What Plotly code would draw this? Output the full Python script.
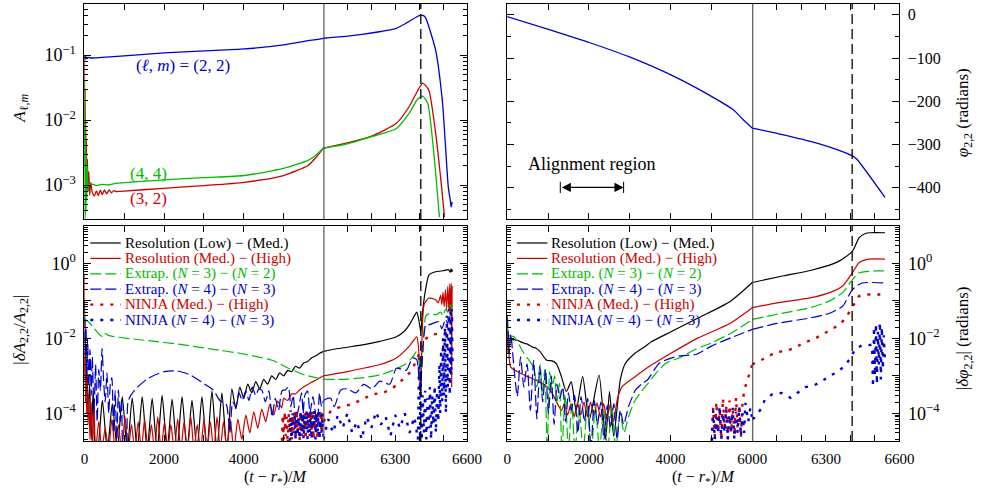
import numpy as np
import plotly.graph_objects as go

FONT = "Liberation Serif"
W, H = 990, 491
BLACK, RED, GREEN, BLUE = "#000000", "#cc0000", "#00bb00", "#0000cc"
T_BREAK = 6000      # axis scale changes here
T_END = 6600
T_MERGE = 6407      # dashed line (peak of amplitude)

# ------------------------------------------------------------------ data
# (t - r*)/M , value   -- top left : amplitudes A_{l,m}
amp22 = [(0, 0.1), (15, 0.085), (30, 0.095), (60, 0.088), (100, 0.092), (150, 0.09), (443, 0.092),
         (1000, 0.097), (1994, 0.108), (3000, 0.116), (4012, 0.124), (4997, 0.143), (5612, 0.166),
         (5800, 0.172), (6000, 0.181), (6100, 0.195), (6169, 0.209), (6240, 0.23), (6305, 0.258),
         (6340, 0.30), (6373, 0.355), (6395, 0.395), (6407, 0.412), (6420, 0.40), (6428, 0.37),
         (6445, 0.243), (6469, 0.119), (6497, 0.020), (6522, 9.3e-4), (6530, 6e-4), (6534, 4.6e-4),
         (6538, 5.5e-4)]
amp32 = [(0, 0.09), (8, 2e-3), (16, 0.03), (24, 1.2e-3), (32, 0.01), (40, 1.5e-3), (50, 5e-3),
         (60, 1e-3), (75, 2.5e-3), (90, 8e-4), (110, 1.6e-3), (130, 7e-4), (160, 1.1e-3), (200, 7.6e-4),
         (250, 6.8e-4), (300, 8.1e-4), (350, 6.9e-4), (400, 8.3e-4), (450, 7.1e-4), (500, 8.4e-4),
         (560, 7.3e-4), (620, 8.4e-4), (680, 7.6e-4), (740, 8.2e-4), (800, 7.9e-4), (900, 8.0e-4),
         (1994, 8.9e-4), (3000, 9.8e-4), (4012, 1.1e-3), (4997, 1.4e-3), (5612, 2.0e-3), (5800, 2.6e-3),
         (6000, 3.7e-3), (6095, 4.4e-3), (6198, 5.6e-3), (6305, 8.9e-3), (6358, 0.016), (6391, 0.027),
         (6415, 0.037), (6440, 0.029), (6469, 6.3e-3), (6494, 9.3e-4), (6506, 3.2e-4)]
amp44 = [(0, 0.041), (5, 5e-4), (10, 0.02), (15, 3e-4), (20, 0.01), (25, 3.5e-4), (30, 5e-3),
         (40, 4e-4), (50, 3e-3), (60, 6e-4), (70, 2e-3), (85, 8e-4), (100, 1.05e-3), (150, 0.97e-3),
         (200, 1.03e-3), (300, 0.98e-3), (443, 1.02e-3), (600, 1.0e-3), (800, 1.06e-3), (1994, 1.2e-3),
         (3000, 1.3e-3), (4012, 1.4e-3), (4997, 1.8e-3), (5612, 2.4e-3), (5800, 2.85e-3), (6000, 3.7e-3),
         (6100, 4.3e-3), (6198, 5.5e-3), (6305, 7.4e-3), (6358, 0.0126), (6391, 0.0203), (6415, 0.0233),
         (6436, 0.018), (6460, 3.5e-3), (6485, 3.2e-4)]

# top right : phase phi_{2,2} (radians)
phase22 = [(0, -4), (1049, -35), (2008, -64), (3008, -98), (4008, -139), (5008, -189), (5528, -219),
           (5770, -242), (6000, -262), (6108, -275), (6241, -293), (6348, -312), (6411, -327),
           (6428, -335), (6541, -422)]
align_region = (1300, 2850)

# bottom left : |dA/A|
dA_res_lm = [(0, 3e-3), (30, 3e-4), (60, 1.5e-3), (90, 1e-4), (130, 6e-4), (170, 2e-5), (220, 4e-4),
             (280, 1e-5), (325, 1e-5), (450, 2.2e-4), (575, 1e-5), (700, 1.8e-4), (825, 1e-5),
             (950, 2.8e-4), (1075, 1e-5), (1200, 2.6e-4), (1325, 1e-5), (1450, 2.8e-4), (1575, 1e-5),
             (1700, 2.5e-4), (1825, 1e-5), (1950, 3e-4), (2075, 1e-5), (2200, 2.4e-4), (2325, 1e-5),
             (2450, 2.8e-4), (2575, 1e-5), (2700, 2.2e-4), (2825, 1e-5), (2950, 2.8e-4), (3075, 1e-5),
             (3200, 4e-4), (3325, 1e-5), (3450, 3.5e-4), (3575, 1e-5), (3700, 4.5e-4), (3800, 1.3e-4),
             (3900, 5e-4), (4000, 2.5e-4), (4100, 6e-4), (4200, 3.5e-4), (4300, 7e-4), (4400, 4.5e-4),
             (4500, 8e-4), (4600, 6e-4), (4700, 1e-3), (4800, 8e-4), (4900, 1.2e-3), (5000, 1e-3),
             (5100, 1.4e-3), (5200, 1.3e-3), (5300, 1.8e-3), (5400, 1.6e-3), (5500, 2.2e-3),
             (5600, 2.4e-3), (5700, 3e-3), (5800, 3.4e-3), (5900, 4e-3), (6000, 4.5e-3), (6050, 5.2e-3),
             (6100, 5.8e-3), (6170, 6.8e-3), (6236, 8.3e-3), (6305, 0.011), (6340, 0.016), (6359, 0.023),
             (6380, 0.04), (6390, 0.05), (6400, 0.028), (6407, 0.015), (6414, 0.05), (6428, 0.22),
             (6441, 0.49), (6469, 0.6), (6500, 0.64), (6523, 0.68), (6530, 0.58), (6534, 0.72),
             (6537, 0.6), (6540, 0.68)]
dA_res_mh = [(0, 0.5), (10, 1e-3), (20, 0.03), (30, 2e-4), (40, 5e-3), (50, 1e-4), (70, 1e-3), (90, 5e-5),
             (110, 3e-4), (140, 2e-5), (170, 2e-4), (200, 1e-5), (240, 1.5e-4), (280, 1e-5),
             (360, 6e-5), (440, 1e-5), (520, 4e-5), (605, 1e-5), (690, 7e-5), (770, 1e-5), (850, 5e-5),
             (935, 1e-5), (1020, 8e-5), (1100, 1e-5), (1180, 5e-5), (1265, 1e-5), (1350, 6e-5),
             (1430, 1e-5), (1510, 7e-5), (1595, 1e-5), (1680, 5e-5), (1760, 1e-5), (1840, 8e-5),
             (1925, 1e-5), (2010, 6e-5), (2090, 1e-5), (2170, 5e-5), (2255, 1e-5), (2340, 7e-5),
             (2420, 1e-5), (2500, 6e-5), (2585, 1e-5), (2670, 8e-5), (2750, 1e-5), (2830, 5e-5),
             (2915, 1e-5), (3000, 7e-5), (3080, 1e-5), (3160, 6e-5), (3245, 1e-5), (3330, 8e-5),
             (3410, 1e-5), (3490, 6e-5), (3575, 1e-5), (3660, 7e-5), (3750, 1e-5), (3850, 7e-5),
             (3950, 2e-5), (4050, 9e-5), (4150, 3e-5), (4250, 1.1e-4), (4350, 4e-5), (4450, 1.3e-4),
             (4550, 6e-5), (4650, 1.7e-4), (4750, 9e-5), (4850, 2.1e-4), (4950, 1.4e-4), (5000, 2.5e-4),
             (5100, 2.2e-4), (5200, 3.3e-4), (5300, 3.3e-4), (5400, 4.2e-4), (5500, 5e-4), (5600, 5.8e-4),
             (5700, 6.7e-4), (5800, 7.6e-4), (5900, 8.7e-4), (6000, 1e-3), (6100, 1.3e-3), (6236, 2e-3),
             (6305, 3e-3), (6359, 6.2e-3), (6390, 0.011), (6400, 3.2e-3), (6407, 3e-4), (6412, 0.01),
             (6421, 0.08), (6441, 0.12), (6469, 0.107), (6480, 0.09), (6490, 0.14), (6495, 0.08),
             (6500, 0.17), (6505, 0.07), (6510, 0.2), (6515, 0.06), (6520, 0.25), (6525, 0.05),
             (6528, 0.28), (6531, 0.04), (6534, 0.3), (6536, 5e-4), (6538, 0.25)]
dA_ext_32 = [(0, 0.035), (50, 0.03), (115, 0.027), (250, 0.018), (400, 0.012), (485, 0.011), (525, 0.0135),
             (600, 0.012), (770, 0.011), (1592, 8.7e-3), (2412, 6.9e-3), (3232, 5.1e-3), (3890, 4e-3),
             (4710, 2.6e-3), (5120, 1.6e-3), (5530, 1.05e-3), (5800, 9e-4), (6000, 8.1e-4), (6031, 8e-4),
             (6100, 8.2e-4), (6168, 9e-4), (6236, 1.05e-3), (6290, 1.4e-3), (6340, 2e-3), (6370, 3e-3),
             (6390, 4.5e-3), (6400, 2.5e-3), (6407, 1e-3), (6415, 4e-3), (6428, 0.04), (6441, 0.045),
             (6470, 0.043), (6490, 0.05), (6500, 0.04), (6510, 0.06), (6520, 0.05), (6530, 0.08),
             (6536, 0.06), (6540, 0.09)]
dA_ext_43 = [(0, 0.1), (20, 3e-3), (40, 0.02), (60, 1e-3), (80, 0.01), (110, 5e-4), (140, 5e-3), (170, 3e-4),
             (197, 3.2e-3), (240, 1e-4), (280, 2e-3), (320, 6e-5), (360, 1.5e-3), (400, 4e-4),
             (443, 5.4e-3), (480, 8e-4), (520, 2e-4), (566, 1.2e-3), (610, 1e-4), (650, 6e-4),
             (689, 9e-4), (730, 3e-5), (770, 4e-4), (810, 2e-5), (853, 4.2e-4), (900, 6e-5), (935, 2.5e-4),
             (980, 1e-5), (1040, 1e-5), (1100, 2.2e-4), (1263, 4.2e-4), (1592, 8.5e-4), (2002, 1.3e-3),
             (2330, 1.35e-3), (2658, 1.05e-3), (2986, 6.3e-4), (3232, 4.2e-4), (3397, 2.2e-4),
             (3561, 1.7e-4), (3650, 3e-5), (3720, 2e-4), (3800, 1.5e-4), (3880, 3.5e-4), (3960, 2.2e-4),
             (4050, 4e-4), (4130, 2.2e-4), (4210, 5e-4), (4300, 3e-4), (4380, 4.5e-4), (4460, 4e-4),
             (4540, 2e-4), (4630, 4e-4), (4710, 8e-5), (4790, 2.5e-4), (4870, 1.2e-4), (4960, 4e-4),
             (5040, 4.2e-4), (5120, 5e-4), (5180, 1.5e-4), (5240, 3e-4), (5300, 6e-5), (5365, 1.2e-4),
             (5450, 3.5e-4), (5490, 1e-4), (5530, 3e-4), (5600, 4e-4), (5660, 1e-4), (5735, 2.8e-4),
             (5800, 1e-4), (5850, 6e-5), (5900, 3.5e-4), (5950, 1.5e-4), (6000, 2.2e-4), (6017, 2.5e-4),
             (6031, 2.5e-4), (6045, 1.5e-4), (6072, 4.2e-4), (6100, 4.5e-4), (6135, 3.5e-4),
             (6168, 5.9e-4), (6202, 4.5e-4), (6236, 7.2e-4), (6277, 6e-4), (6305, 1.6e-3), (6346, 1.4e-3),
             (6373, 3e-3), (6390, 2.7e-3), (6403, 4e-4), (6407, 5.9e-4), (6428, 0.023), (6441, 0.023),
             (6482, 0.028), (6495, 0.018), (6510, 0.032), (6520, 0.025), (6530, 0.05), (6537, 0.04)]
dA_ninja_res = [(4950, 1e-5), (4975, 9e-5), (5000, 2e-5), (5025, 1.1e-4), (5050, 2.5e-5), (5075, 8e-5),
                (5100, 1.5e-5), (5125, 1e-4), (5150, 3e-5), (5175, 1.2e-4), (5200, 2e-5), (5225, 9e-5),
                (5250, 3.5e-5), (5275, 1.1e-4), (5300, 2e-5), (5325, 1.2e-4), (5350, 3e-5), (5375, 8e-5),
                (5400, 1.8e-5), (5425, 1.1e-4), (5450, 2.5e-5), (5475, 1e-4), (5500, 3e-5), (5525, 1.2e-4),
                (5550, 2e-5), (5575, 1e-4), (5600, 4e-5), (5625, 1.2e-4), (5650, 2.5e-5), (5675, 1.1e-4),
                (5700, 3e-5), (5725, 1.2e-4), (5750, 2e-5), (5775, 9e-5), (5800, 3.5e-5), (5825, 1.15e-4),
                (5850, 2e-5), (5875, 1e-4), (5900, 4e-5), (5925, 1.2e-4), (5950, 3e-5), (5975, 1.1e-4),
                (6000, 6e-5), (6031, 1.15e-4), (6072, 1.5e-4), (6113, 1.7e-4), (6161, 2.3e-4),
                (6202, 3.2e-4), (6250, 3.5e-4), (6291, 4.8e-4), (6332, 8e-4), (6366, 1.3e-3),
                (6394, 3e-3), (6421, 9.3e-3), (6455, 0.0126), (6496, 0.0138), (6530, 0.0138)]
dA_ninja_ext = [(5150, 1e-5), (5175, 8e-5), (5200, 1.5e-5), (5225, 1e-4), (5250, 3e-5), (5275, 9e-5),
                (5300, 2e-5), (5325, 1.1e-4), (5350, 2.5e-5), (5375, 8e-5), (5400, 1.5e-5), (5425, 1.2e-4),
                (5450, 3e-5), (5475, 1e-4), (5500, 2e-5), (5525, 9e-5), (5550, 3.5e-5), (5575, 1.2e-4),
                (5600, 2e-5), (5625, 1e-4), (5650, 3e-5), (5675, 1.1e-4), (5700, 2e-5), (5725, 9e-5),
                (5750, 4e-5), (5775, 1.2e-4), (5800, 2e-5), (5825, 1e-4), (5850, 3e-5), (5875, 1.1e-4),
                (5900, 2e-5), (5925, 9e-5), (5950, 3e-5), (5975, 1e-4), (6000, 2e-5), (6020, 7e-5),
                (6040, 3e-5), (6060, 9e-5), (6080, 4e-5), (6100, 1e-4), (6120, 3e-5), (6140, 6e-5),
                (6160, 2e-5), (6180, 8e-5), (6200, 4e-5), (6220, 1.1e-4), (6240, 5e-5), (6260, 8e-5),
                (6280, 2.5e-5), (6300, 9e-5), (6320, 4e-5), (6340, 1e-4), (6360, 3e-5), (6380, 8e-5),
                (6395, 2e-5), (6400, 3e-3), (6403, 1e-5), (6406, 2e-3), (6410, 1e-5), (6415, 3e-4),
                (6420, 3e-5), (6425, 4e-4), (6430, 2e-5), (6435, 2.5e-4), (6440, 4e-5), (6445, 5e-4),
                (6450, 2e-5), (6455, 3e-4), (6460, 5e-5), (6465, 5.5e-4), (6470, 3e-5), (6475, 4e-4),
                (6480, 6e-5), (6485, 2e-3), (6488, 1e-4), (6492, 5e-3), (6496, 2e-4), (6500, 0.01),
                (6504, 3e-4), (6508, 0.02), (6512, 1e-4), (6516, 0.04), (6520, 5e-4), (6524, 0.06),
                (6528, 3e-4), (6531, 0.05), (6534, 1e-3), (6537, 0.06), (6540, 2e-3)]

# bottom right : |d phi| (radians)
dphi_res_lm = [(0, 0.035), (20, 0.012), (40, 0.01), (100, 0.0095), (248, 8.9e-3), (400, 7.5e-3),
               (500, 7e-3), (600, 6e-3), (700, 5.5e-3), (800, 4.5e-3), (968, 2.6e-3), (1100, 2.5e-3),
               (1208, 2.1e-3), (1328, 9.5e-4), (1448, 3.8e-4), (1568, 6.9e-4), (1688, 1.2e-4),
               (1848, 9.5e-4), (2008, 6.6e-5), (2248, 1.05e-3), (2408, 2e-5), (2504, 3.8e-4),
               (2608, 2.4e-5), (2768, 7.8e-4), (2888, 2.1e-3), (3128, 4e-3), (3368, 6e-3), (3528, 8.1e-3),
               (4008, 0.015), (4648, 0.034), (5448, 0.095), (6000, 0.31), (6128, 0.47), (6241, 0.66),
               (6348, 1.1), (6408, 2.1), (6435, 4.8), (6461, 6.3), (6480, 6.6), (6541, 6.6)]
dphi_res_mh = [(0, 0.028), (15, 4e-3), (30, 8e-3), (50, 3e-3), (88, 1.7e-3), (248, 1.3e-3), (500, 9.5e-4),
               (700, 7.8e-4), (968, 5.1e-4), (1100, 3.5e-4), (1208, 2e-4), (1330, 1.2e-4), (1400, 1.8e-4),
               (1480, 9e-5), (1560, 1.8e-4), (1640, 8e-5), (1720, 1.9e-4), (1800, 9e-5), (1880, 2e-4),
               (1960, 8e-5), (2040, 2e-4), (2120, 9e-5), (2200, 1.9e-4), (2280, 8e-5), (2360, 1.8e-4),
               (2440, 7e-5), (2520, 1.7e-4), (2600, 6e-5), (2700, 2.5e-4), (2808, 5.1e-4), (3128, 9.5e-4),
               (3448, 1.7e-3), (4008, 4e-3), (4648, 0.01), (5448, 0.025), (6000, 0.066), (6101, 0.089),
               (6235, 0.12), (6315, 0.166), (6368, 0.25), (6408, 0.56), (6435, 1.05), (6475, 1.3),
               (6541, 1.3)]
dphi_ext_32 = [(0, 0.03), (30, 0.012), (168, 0.011), (408, 4e-3), (648, 1.7e-3), (728, 5e-4), (808, 2e-3),
               (860, 3e-4), (920, 1.5e-3), (980, 1e-5), (1040, 1.3e-3), (1100, 4e-4), (1160, 1e-3),
               (1220, 2e-4), (1280, 6.3e-4), (1340, 1e-5), (1420, 3.2e-4), (1500, 1e-5), (1580, 1.8e-4),
               (1660, 1e-5), (1760, 1.4e-4), (1860, 1e-5), (1960, 1.3e-4), (2060, 1e-5), (2160, 1.6e-4),
               (2260, 1e-5), (2360, 1.3e-4), (2460, 1e-5), (2560, 1.6e-4), (2660, 1e-5), (2760, 1.1e-4),
               (2860, 3e-5), (2968, 8e-5), (3128, 2.2e-4), (3300, 4e-4), (3448, 6.3e-4), (3648, 1.2e-3),
               (3888, 2.2e-3), (4208, 3e-3), (4608, 5.1e-3), (5008, 7.6e-3), (5488, 0.014), (6000, 0.032),
               (6101, 0.044), (6235, 0.066), (6315, 0.1), (6368, 0.166), (6408, 0.37), (6435, 0.56),
               (6501, 0.63), (6541, 0.63)]
dphi_ext_43 = [(0, 0.04), (20, 0.02), (50, 4e-3), (88, 0.013), (170, 1.5e-3), (248, 2.8e-4), (328, 3.2e-3),
               (408, 5e-4), (488, 2.1e-3), (568, 1.2e-4), (648, 2.6e-3), (728, 7e-5), (800, 1.8e-3),
               (870, 2e-4), (940, 1.5e-3), (1010, 1e-4), (1080, 1e-3), (1150, 5e-5), (1220, 6e-4),
               (1290, 2.5e-4), (1360, 5e-4), (1430, 6e-5), (1500, 3.5e-4), (1570, 1.2e-4), (1650, 3e-4),
               (1730, 3e-5), (1810, 2.8e-4), (1890, 6e-5), (1970, 2.5e-4), (2050, 1e-5), (2130, 2.2e-4),
               (2210, 5e-5), (2290, 2e-4), (2370, 2e-5), (2450, 1.6e-4), (2530, 4e-5), (2610, 1.8e-4),
               (2690, 2e-5), (2770, 1.2e-4), (2850, 5e-5), (2968, 1.5e-4), (3048, 2.5e-4), (3128, 4e-4),
               (3288, 6e-4), (3448, 8.1e-4), (3728, 2.2e-3), (4208, 3.4e-3), (4608, 3.7e-3), (5008, 6.3e-3),
               (5488, 0.0105), (6000, 0.0174), (6101, 0.025), (6235, 0.035), (6315, 0.047), (6368, 0.072),
               (6408, 0.2), (6448, 0.3), (6541, 0.3)]
dphi_ninja_res = [(5000, 1e-5), (5040, 1.4e-4), (5080, 2.5e-5), (5120, 2e-4), (5160, 3e-5), (5200, 1.2e-4),
                  (5240, 2e-5), (5280, 2.5e-4), (5320, 4e-5), (5360, 1.5e-4), (5400, 2e-5), (5440, 2.2e-4),
                  (5480, 3e-5), (5520, 1.3e-4), (5560, 2.5e-5), (5600, 2.6e-4), (5640, 4e-5), (5680, 1.6e-4),
                  (5720, 2.2e-5), (5760, 2e-4), (5808, 4.4e-4), (5952, 1.5e-3), (6000, 2e-3), (6015, 2.3e-3),
                  (6055, 3e-3), (6095, 4.3e-3), (6135, 4.6e-3), (6175, 5.6e-3), (6208, 7.6e-3),
                  (6248, 9.3e-3), (6288, 0.013), (6321, 0.017), (6355, 0.023), (6381, 0.035), (6408, 0.066),
                  (6435, 0.135), (6468, 0.148), (6508, 0.148), (6530, 0.148)]
dphi_ninja_ext = [(5000, 1e-5), (5040, 1.2e-4), (5080, 2e-5), (5120, 8e-5), (5160, 3e-5), (5200, 1.6e-4),
                  (5240, 2e-5), (5280, 1e-4), (5320, 3e-5), (5360, 1.3e-4), (5400, 2e-5), (5440, 9e-5),
                  (5480, 3.5e-5), (5520, 1.4e-4), (5560, 2e-5), (5600, 1.1e-4), (5640, 3e-5), (5680, 1.5e-4),
                  (5720, 2.5e-5), (5760, 1e-4), (5800, 3e-5), (5830, 1.9e-4), (5900, 6e-5), (5950, 1.4e-4),
                  (6000, 7e-5), (6008, 7.6e-5), (6035, 1.3e-4), (6051, 2.3e-4), (6081, 3.2e-4),
                  (6119, 3.5e-4), (6155, 2.6e-4), (6184, 3.5e-4), (6217, 5e-4), (6252, 5.6e-4),
                  (6284, 7.2e-4), (6315, 1e-3), (6348, 1.26e-3), (6375, 1.8e-3), (6401, 3e-3),
                  (6419, 5.2e-3), (6448, 6.6e-3), (6475, 6.6e-3), (6488, 6.8e-3), (6492, 5e-4), (6496, 0.02),
                  (6500, 1e-3), (6504, 0.025), (6508, 6e-4), (6512, 0.015), (6516, 2e-3), (6520, 0.027),
                  (6524, 8e-4), (6528, 0.02), (6532, 1.5e-3), (6536, 0.012), (6540, 3e-3)]

x_ticks_a = [0, 1000, 2000, 3000, 4000, 5000, 6000]
x_text_a = ["0", "", "2000", "", "4000", "", "6000"]
x_ticks_b = [6000, 6100, 6200, 6300, 6400, 6500, 6600]
x_text_b = ["", "", "", "6300", "", "", "6600"]

legend_names = ["Resolution (Low) \u2212 (Med.)", "Resolution (Med.) \u2212 (High)",
                "Extrap. (<i>N</i> = 3) \u2212 (<i>N</i> = 2)", "Extrap. (<i>N</i> = 4) \u2212 (<i>N</i> = 3)",
                "NINJA (Med.) \u2212 (High)", "NINJA (<i>N</i> = 4) \u2212 (<i>N</i> = 3)"]

# ------------------------------------------------------------------ styling / layout
DASH = "11px,4px"
DOT = "3px,7px"
# colour, dash, width, smooth
STYLES = [(BLACK, "solid", 1.2, True), (RED, "solid", 1.2, True), (GREEN, DASH, 1.2, True),
          (BLUE, DASH, 1.2, True), (RED, DOT, 2.4, False), (BLUE, DOT, 2.4, False)]

BOX = {"tl": (82, 472, 4, 219), "tr": (513, 913, 4, 219),
       "bl": (82, 472, 226, 441), "br": (513, 913, 226, 441)}
ORDER = ["tl", "tr", "bl", "br"]


def ids(key):
    i = ORDER.index(key)
    return 2 * i + 1, 2 * i + 2


def ref(p, n):
    return p if n == 1 else f"{p}{n}"


def lkey(p, n):
    return f"{p}axis" if n == 1 else f"{p}axis{n}"


def sup(e):
    return f"10<sup>{e}</sup>"


def log_minor(lo, hi):
    return [k * 10.0 ** d for d in range(lo, hi) for k in range(2, 10)]


YSPEC = {
    "tl": dict(type="log", range=[-3.523, -0.215], vals=[1e-3, 1e-2, 1e-1], size=18,
               text=[sup("\u22123"), sup("\u22122"), sup("\u22121")], minor=log_minor(-4, 1)),
    "tr": dict(type="linear", range=[-472, 25], vals=[-400, -300, -200, -100, 0], size=16,
               text=["\u2212400", "\u2212300", "\u2212200", "\u2212100", "0"],
               minor=[-450, -350, -250, -150, -50]),
    "bl": dict(type="log", range=[-4.74, 1.0], vals=[1e-4, 1e-3, 1e-2, 1e-1, 1, 10], size=18,
               text=[sup("\u22124"), "", sup("\u22122"), "", sup("0"), ""], minor=log_minor(-5, 2)),
}
YSPEC["br"] = YSPEC["bl"]

fig = go.Figure()


def add_curve(key, pairs, color, dash, width, smooth=True):
    a, b = ids(key)
    t, v = zip(*pairs)
    t = np.array(t, float)
    v = np.array(v, float)
    for n, m in ((a, t <= T_BREAK), (b, t >= T_BREAK)):
        if m.sum() < 2:
            continue
        line = dict(color=color, width=width, dash=dash)
        if smooth:
            line.update(shape="spline", smoothing=0.6)
        fig.add_trace(go.Scatter(x=t[m], y=v[m], mode="lines", xaxis=ref("x", n), yaxis=ref("y", n),
                                 line=line, showlegend=False, hoverinfo="skip"))


add_curve("tl", amp22, BLUE, "solid", 1.3)
add_curve("tl", amp32, RED, "solid", 1.3)
add_curve("tl", amp44, GREEN, "solid", 1.3)
add_curve("tr", phase22, BLUE, "solid", 1.3)
for pairs, st in zip([dA_res_lm, dA_res_mh, dA_ext_32, dA_ext_43, dA_ninja_res, dA_ninja_ext], STYLES):
    add_curve("bl", pairs, *st)
for pairs, st in zip([dphi_res_lm, dphi_res_mh, dphi_ext_32, dphi_ext_43, dphi_ninja_res, dphi_ninja_ext], STYLES):
    add_curve("br", pairs, *st)

layout = dict(width=W, height=H, margin=dict(l=0, r=0, t=0, b=0), plot_bgcolor="white",
              paper_bgcolor="white", showlegend=False, font=dict(family=FONT, color="black"))
shapes, annotations = [], []

for key in ORDER:
    L, R, T, B = BOX[key]
    xm = L + (R - L) * 0.625
    a, b = ids(key)
    bottom = key in ("bl", "br")
    right = key in ("tr", "br")
    ydom = [1 - B / H, 1 - T / H]
    common_x = dict(showline=True, linecolor="black", linewidth=1, mirror="ticks", ticks="inside",
                    ticklen=6, tickwidth=1, tickcolor="black", tickmode="array", showgrid=False,
                    zeroline=False, showticklabels=bottom, tickfont=dict(family=FONT, size=15),
                    ticklabelstandoff=4)
    layout[lkey("x", a)] = dict(domain=[L / W, xm / W], range=[0, T_BREAK], tickvals=x_ticks_a,
                                ticktext=x_text_a, anchor=ref("y", a), **common_x)
    layout[lkey("x", b)] = dict(domain=[xm / W, R / W], range=[T_BREAK, T_END], tickvals=x_ticks_b,
                                ticktext=x_text_b, anchor=ref("y", b), **common_x)
    s = YSPEC[key]
    common_y = dict(type=s["type"], range=s["range"], domain=ydom, showline=True, linecolor="black",
                    linewidth=1, ticks="inside", ticklen=7, tickwidth=1, tickcolor="black",
                    tickmode="array", tickvals=s["vals"], ticktext=s["text"], showgrid=False,
                    zeroline=False, tickfont=dict(family=FONT, size=s["size"]), ticklabelstandoff=4,
                    minor=dict(tickmode="array", tickvals=s["minor"], ticks="inside", ticklen=4,
                               tickcolor="black", showgrid=False))
    layout[lkey("y", a)] = dict(anchor=ref("x", a), side="left", showticklabels=not right, **common_y)
    layout[lkey("y", b)] = dict(anchor=ref("x", b), side="right", showticklabels=right, **common_y)
    yref = ref("y", b) + " domain"
    shapes.append(dict(type="line", xref=ref("x", b), x0=T_BREAK, x1=T_BREAK, yref=yref, y0=0, y1=1,
                       line=dict(color="#111111", width=1.7)))
    shapes.append(dict(type="line", xref=ref("x", b), x0=T_MERGE, x1=T_MERGE, yref=yref, y0=0, y1=1,
                       line=dict(color="black", width=1.3, dash="10px,5px")))

    if bottom:
        off = 6 if key == "bl" else 10
        for k, (name, st) in enumerate(zip(legend_names, STYLES)):
            py = 243 + 15.4 * k
            shapes.append(dict(type="line", xref="paper", yref="paper", x0=(L + off) / W,
                               x1=(L + off + 31) / W, y0=1 - py / H, y1=1 - py / H,
                               line=dict(color=st[0], width=st[2], dash=st[1])))
            annotations.append(dict(xref="paper", yref="paper", x=(L + off + 33) / W, y=1 - py / H,
                                    text=name, showarrow=False, xanchor="left", yanchor="middle",
                                    font=dict(family=FONT, size=15, color=st[0])))
        annotations.append(dict(xref="paper", yref="paper", x=(L + R) / 2 / W, y=1 - 477 / H,
                                text="(<i>t</i> \u2212 <i>r</i><sub>*</sub>)/<i>M</i>", showarrow=False,
                                xanchor="center", yanchor="middle", font=dict(family=FONT, size=16)))

# axis titles
for text, px, py in [("<i>A</i><sub>\u2113,<i>m</i></sub>", 17, 108),
                     ("|<i>\u03b4A</i><sub>2,2</sub>/<i>A</i><sub>2,2</sub>|", 17, 330),
                     ("<i>\u03c6</i><sub>2,2</sub> (radians)", 979, 113),
                     ("|<i>\u03b4\u03c6</i><sub>2,2</sub>| (radians)", 979, 338)]:
    annotations.append(dict(xref="paper", yref="paper", x=px / W, y=1 - py / H, text=text,
                            showarrow=False, textangle=-90, xanchor="center", yanchor="middle",
                            font=dict(family=FONT, size=17)))

# mode labels (top left)
for text, t, v, c in [("(<i>\u2113</i>, <i>m</i>) = (2, 2)", 2462, 0.068, BLUE),
                      ("(4, 4)", 1600, 1.53e-3, GREEN), ("(3, 2)", 1600, 6.1e-4, RED)]:
    annotations.append(dict(xref="x", yref="y", x=t, y=np.log10(v), text=text, showarrow=False,
                            xanchor="center", yanchor="middle", font=dict(family=FONT, size=17, color=c)))

# alignment region (top right)
annotations.append(dict(xref="x3", yref="y3", x=2064, y=-346, text="Alignment region",
                        showarrow=False, xanchor="center", yanchor="middle",
                        font=dict(family=FONT, size=18)))
annotations.append(dict(xref="x3", yref="y3", axref="x3", ayref="y3", x=align_region[1], y=-399,
                        ax=align_region[0], ay=-399, text="", showarrow=True, arrowside="end+start",
                        arrowhead=2, arrowsize=1.4, arrowwidth=1.3, arrowcolor="black"))
for t in align_region:
    shapes.append(dict(type="line", xref="x3", yref="y3", x0=t, x1=t, y0=-386, y1=-412,
                       line=dict(color="black", width=1)))

layout["shapes"] = shapes
layout["annotations"] = annotations
fig.update_layout(**layout)
fig.write_html("out.html", config={"displayModeBar": False, "staticPlot": True},
               post_script="document.body.style.margin='0px';")
